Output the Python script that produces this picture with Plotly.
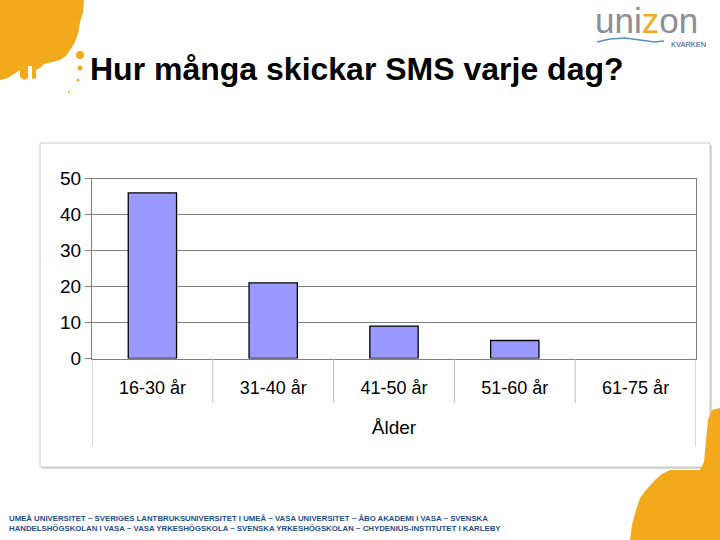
import plotly.graph_objects as go

categories = ["16-30 år", "31-40 år", "41-50 år", "51-60 år", "61-75 år"]
values = [46, 21, 9, 5, 0]
y_ticks = [0, 10, 20, 30, 40, 50]

title_text = "Hur många skickar SMS varje dag?"
x_title = "Ålder"
footer_lines = [
    "UMEÅ UNIVERSITET ~ SVERIGES LANTBRUKSUNIVERSITET I UMEÅ ~ VASA UNIVERSITET ~ ÅBO AKADEMI I VASA ~ SVENSKA",
    "HANDELSHÖGSKOLAN I VASA ~ VASA YRKESHÖGSKOLA ~ SVENSKA YRKESHÖGSKOLAN ~ CHYDENIUS-INSTITUTET I KARLEBY",
]

W, H = 720, 540
def px(x):
    return x / W
def py(y):
    return 1 - y / H

ORANGE = "#f2a91c"
GRID = "#808080"
FONT = "Liberation Sans, Arial, sans-serif"

plot_l, plot_r, plot_t, plot_b = 92, 696, 178.5, 358.5

fig = go.Figure()
fig.add_trace(go.Bar(
    x=categories, y=values,
    marker=dict(color="#9999ff",
                line=dict(color="#000000", width=[1.3 if v > 0 else 0 for v in values])),
    width=0.4,
    hoverinfo="skip",
))

shapes = []
shapes.append(dict(type="rect", xref="paper", yref="paper",
                   x0=px(42), x1=px(712), y0=py(469), y1=py(145),
                   fillcolor="#d9d9d9", line=dict(width=0), layer="below"))
shapes.append(dict(type="rect", xref="paper", yref="paper",
                   x0=px(40), x1=px(710), y0=py(467), y1=py(143),
                   fillcolor="white", line=dict(color="#c8c8c8", width=1), layer="below"))

n = len(categories)
for i in range(n + 1):
    edge = i == 0 or i == n
    shapes.append(dict(type="line", xref="x", yref="paper",
                       x0=i - 0.5, x1=i - 0.5,
                       y0=py(plot_b), y1=py(446.5 if edge else 403),
                       line=dict(color="#c0c0c0" if not edge else "#b0b0b0", width=1)))

tl_path = ("M 0 0 L 84 0 L 83 12 L 80 22 L 78 34 L 74 44 L 70 50 L 66 56 L 60 60 "
           "L 52 62 L 44 64 L 40 68 L 36 70 L 36 78 L 32 79 L 32 66 L 28 66 L 28 78 "
           "L 24 80 L 20 77 L 20 70 L 14 74 L 8 78 L 0 80 Z")
bl_path = ("M 720 540 L 630 540 L 632 525 L 636 510 L 640 498 L 646 490 L 655 480 "
           "L 662 474 L 670 470 L 700 470 L 704 462 L 706 440 L 708 420 L 712 410 L 720 408 Z")

def to_paper_path(p):
    toks = p.split()
    out = []
    i = 0
    while i < len(toks):
        t = toks[i]
        if t in ("M", "L"):
            x = float(toks[i + 1]); y = float(toks[i + 2])
            out.append(f"{t} {px(x):.5f} {py(y):.5f}")
            i += 3
        else:
            out.append(t)
            i += 1
    return " ".join(out)

shapes.append(dict(type="path", xref="paper", yref="paper", path=to_paper_path(tl_path),
                   fillcolor=ORANGE, line=dict(width=0), layer="below"))
shapes.append(dict(type="path", xref="paper", yref="paper", path=to_paper_path(bl_path),
                   fillcolor=ORANGE, line=dict(width=0), layer="below"))
for (cx, cy, r) in [(80, 55, 4), (80, 68, 2.5), (78, 80, 1.5), (69, 92, 1)]:
    shapes.append(dict(type="circle", xref="paper", yref="paper",
                       x0=px(cx - r), x1=px(cx + r), y0=py(cy + r), y1=py(cy - r),
                       fillcolor=ORANGE, line=dict(width=0), layer="below"))
shapes.append(dict(type="path", xref="paper", yref="paper",
                   path=to_paper_path("M 597 42 L 610 39 L 625 38 L 640 40 L 655 42 L 664 41"),
                   line=dict(color="#5b8fc7", width=1.5)))

annotations = []
annotations.append(dict(xref="paper", yref="paper", x=px(593), y=py(21), xanchor="left", yanchor="middle",
                        text="<span style='color:#8b8d97'>uni</span><span style='color:#f2a91c'>z</span><span style='color:#8b8d97'>on</span>",
                        showarrow=False, font=dict(family=FONT, size=35, color="#8b8d97")))
annotations.append(dict(xref="paper", yref="paper", x=px(708), y=py(44), xanchor="right", yanchor="middle",
                        text="KVARKEN", showarrow=False,
                        font=dict(family=FONT, size=7.5, color="#1f4e8c")))
for k, line in enumerate(footer_lines):
    annotations.append(dict(xref="paper", yref="paper", x=px(7), y=py(518 + 10 * k),
                            xanchor="left", yanchor="middle", text="<b>" + line + "</b>",
                            showarrow=False,
                            font=dict(family=FONT, size=7.8, color="#1f4e8c")))

fig.update_layout(
    width=W, height=H,
    autosize=False,
    margin=dict(l=0, r=0, t=0, b=0, pad=0, autoexpand=False),
    paper_bgcolor="white",
    plot_bgcolor="#c0c0c0",
    showlegend=False,
    bargap=0.6,
    title=dict(text="<b>" + title_text + "</b>", x=px(90), xanchor="left", y=py(69), yanchor="middle",
               automargin=False,
               font=dict(family=FONT, size=32, color="black")),
    shapes=shapes,
    annotations=annotations,
    xaxis=dict(
        domain=[px(plot_l), px(plot_r)],
        range=[-0.5, n - 0.5],
        type="category",
        automargin=False,
        showgrid=False,
        showline=True, linecolor=GRID, linewidth=1, mirror=True,
        ticks="", ticklabelstandoff=13,
        tickfont=dict(family=FONT, size=18, color="black"),
        title=dict(text=x_title, standoff=23, font=dict(family=FONT, size=19, color="black")),
    ),
    yaxis=dict(
        domain=[py(plot_b), py(plot_t)],
        range=[0, 50],
        tickvals=y_ticks,
        automargin=False,
        showgrid=True, gridcolor=GRID, gridwidth=1,
        showline=True, linecolor=GRID, linewidth=1, mirror=True,
        zeroline=False,
        ticks="outside", ticklen=6, tickcolor=GRID,
        tickfont=dict(family=FONT, size=19, color="black"),
    ),
)

fig.write_html("out.html", config={"displayModeBar": False},
               post_script="document.body.style.margin='0';document.body.style.overflow='hidden';")
